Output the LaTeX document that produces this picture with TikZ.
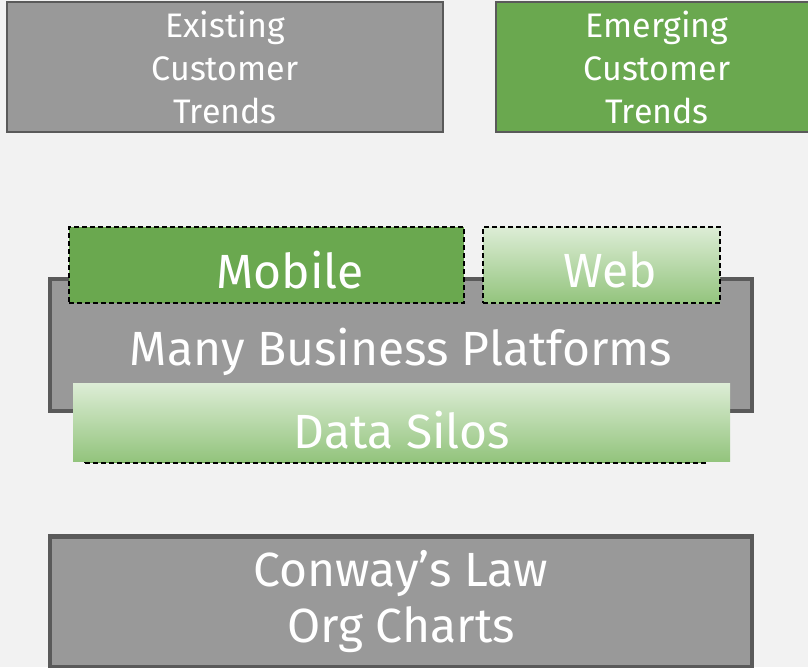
\documentclass[tikz,border=0pt]{standalone}
\usepackage{fontspec}
\setmainfont{Fira Sans}
\usepackage{xcolor}
\usepackage{tikz}
\usetikzlibrary{positioning}
\definecolor{pagebg}{HTML}{F2F2F2}
\definecolor{boxgray}{HTML}{999999}
\definecolor{edgegray}{HTML}{5A5A5A}
\definecolor{leafgreen}{HTML}{6AA84F}
\definecolor{palegreen}{HTML}{DDEDD6}
\definecolor{midgreen}{HTML}{93C47D}
\begin{document}
\begin{tikzpicture}[
            x=1pt, y=-1pt,
            % Define the styles for the layers
            trend/.style={rectangle, draw=edgegray, line width=1.5pt, inner sep=0pt,
                text=white, align=center, font=\fontsize{34}{43}\selectfont},
            layer/.style={rectangle, draw=edgegray, line width=4.5pt, fill=boxgray, inner sep=0pt,
                text=white, align=center, font=\fontsize{48}{56}\selectfont},
            channel/.style={rectangle, draw=black, dash pattern=on 5pt off 3pt, line width=1.3pt, inner sep=0pt},
            faded/.style={top color=palegreen, bottom color=midgreen},
            tag/.style={text=white, font=\fontsize{48}{56}\selectfont},
            ]

            % Background
            \fill[pagebg] (0,0) rectangle (808,667);
            \useasboundingbox (0,0) rectangle (808,667);

            % Customer trends
            \node[trend, fill=boxgray, minimum width=436pt, minimum height=130pt] (existing) at (225,67) {Existing\\Customer\\Trends};
            \node[trend, fill=leafgreen, minimum width=322pt, minimum height=130pt] (emerging) at (657,67) {Emerging\\Customer\\Trends};

            % Business platforms
            \node[layer, minimum width=702pt, minimum height=132pt] (platforms) at (401,345) {};
            \node[tag] (platformstext) at (401,352) {Many Business Platforms};

            % Channels on top
            \node[channel, fill=leafgreen, minimum width=395pt, minimum height=76pt] (mobile) at (266.5,265) {};
            \node[tag] (mobiletext) at (290,270) {Mobile};
            \node[channel, faded, minimum width=237pt, minimum height=76pt] (web) at (601.5,265) {};
            \node[tag] (webtext) at (610,270) {Web};

            % Data silos below
            \node[channel, fill=leafgreen, minimum width=620pt, minimum height=70pt] (silosback) at (395,428) {};
            \node[rectangle, faded, inner sep=0pt, minimum width=657pt, minimum height=78pt] (silos) at (401.5,422) {};
            \node[tag] (silostext) at (402,430) {Data Silos};

            % Org structure
            \node[layer, minimum width=702pt, minimum height=131pt] (conway) at (401,602) {Conway’s Law\\Org Charts};

        \end{tikzpicture}
\end{document}
